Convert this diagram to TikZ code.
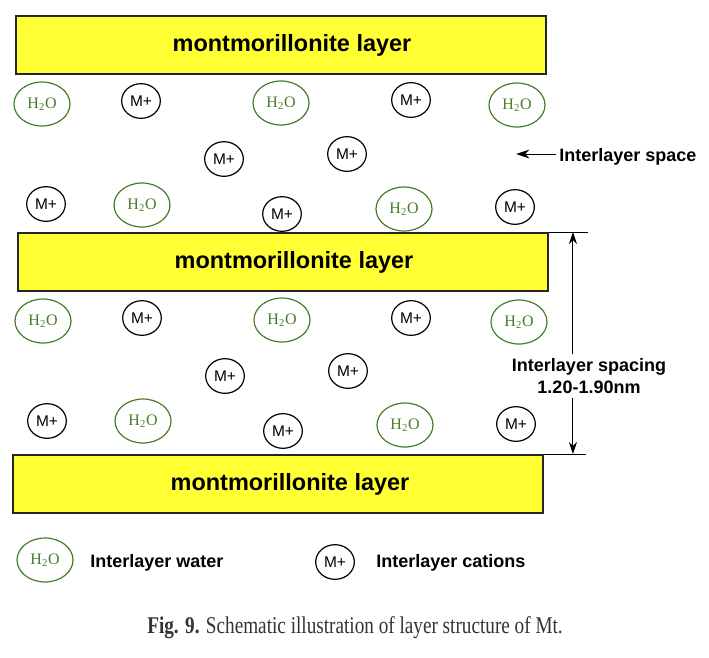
\documentclass[tikz,border=0pt]{standalone}
\usepackage{fontspec}
\setmainfont{Liberation Serif}
\setsansfont{Liberation Sans}
\usetikzlibrary{calc}
\usetikzlibrary{shapes.geometric}
\usetikzlibrary{arrows.meta}
\definecolor{watergreen}{RGB}{70,125,40}
\definecolor{clayyellow}{RGB}{255,255,51}

\begin{document}
\begin{tikzpicture}[x=0.75pt,y=-0.75pt,
                        layer/.style={draw=black!85,line width=1.4pt,fill=clayyellow,
                        minimum width=397.5pt,minimum height=43.5pt,inner sep=0},
                        layertext/.style={font=\sffamily\bfseries\fontsize{17.6}{20}\selectfont},
                        water/.style={ellipse,draw=watergreen,line width=0.9pt,text=watergreen,
                        minimum width=42pt,minimum height=33pt,inner sep=0,font=\rmfamily\fontsize{12}{13}\selectfont},
                        cation/.style={ellipse,draw=black,line width=0.9pt,
                        minimum width=29pt,minimum height=26pt,inner sep=0,font=\sffamily\fontsize{11.6}{13}\selectfont},
                        note/.style={font=\sffamily\bfseries\fontsize{13.5}{16}\selectfont,inner sep=0},
                        dim/.style={line width=0.7pt,-{Stealth[length=9pt,width=6pt]}}
                        ]
                        \useasboundingbox (0,0) rectangle (709,657);
                        % draw clay layers
                        \node[layer] (layerA) at (281,45) {};
                        \node[layer] (layerB) at (283,262) {};
                        \node[layer] (layerC) at (278,484) {};
                        \node[layertext] (textA) at ($ (layerA) + (11,0) $) {montmorillonite layer};
                        \node[layertext] (textB) at ($ (layerB) + (11,0) $) {montmorillonite layer};
                        \node[layertext] (textC) at ($ (layerC) + (12,0) $) {montmorillonite layer};

                        % water and cations between the layers
                        \foreach \x/\y [count=\i] in {42/104,281/103,517/105,142/205,404/209,
                                43/321,282/320,519/322,143/421,405/425}
                            \node[water] (w\i) at (\x,\y) {H\textsubscript{2}O};
                        \foreach \x/\y [count=\i] in {141/101,411/100,224/159,347/154,46/204,282/214,515/207,
                                142/318,411/318,225/376,348/371,47/421,283/431,516/424}
                            \node[cation] (c\i) at (\x,\y) {M+};

                        % interlayer space
                        \coordinate (spacetail) at (556,154);
                        \coordinate (spacetip) at (516,154);
                        \node[note,anchor=west] (space) at (559,157) {Interlayer space};
                        \draw[dim,-{Stealth[length=10pt,width=6.5pt]}] (spacetail) -- (spacetip);

                        % interlayer spacing
                        \draw[line width=0.7pt] (layerB.north east) -- ++(39,0) coordinate (dimtop);
                        \draw[line width=0.7pt] (layerC.north east) -- ++(42,0) coordinate (dimbot);
                        \coordinate (arrowtop) at ($ (dimtop) + (-15,0) $);
                        \coordinate (arrowbot) at ($ (dimbot) + (-13,0) $);
                        \node[note,align=center] (spacing) at (589,376) {Interlayer spacing\\1.20-1.90nm};
                        \draw[dim] ($ (arrowtop |- spacing.north) + (0,-4) $) -- (arrowtop);
                        \draw[dim] ($ (arrowbot |- spacing.south) + (0,4) $) -- (arrowbot);

                        % legend
                        \node[water] (legw) at (45,560) {H\textsubscript{2}O};
                        \node[note,anchor=west] (legwtext) at (90,563) {Interlayer water};
                        \node[cation] (legc) at (335,562) {M+};
                        \node[note,anchor=west] (legctext) at (376,563) {Interlayer cations};

                        % caption
                        \node[font=\rmfamily\fontsize{18}{20}\selectfont,text=black!80,xscale=0.80,transform shape]
                            (caption) at (355,628) {\textbf{Fig. 9.} Schematic illustration of layer structure of Mt.};
                \end{tikzpicture}
\end{document}
